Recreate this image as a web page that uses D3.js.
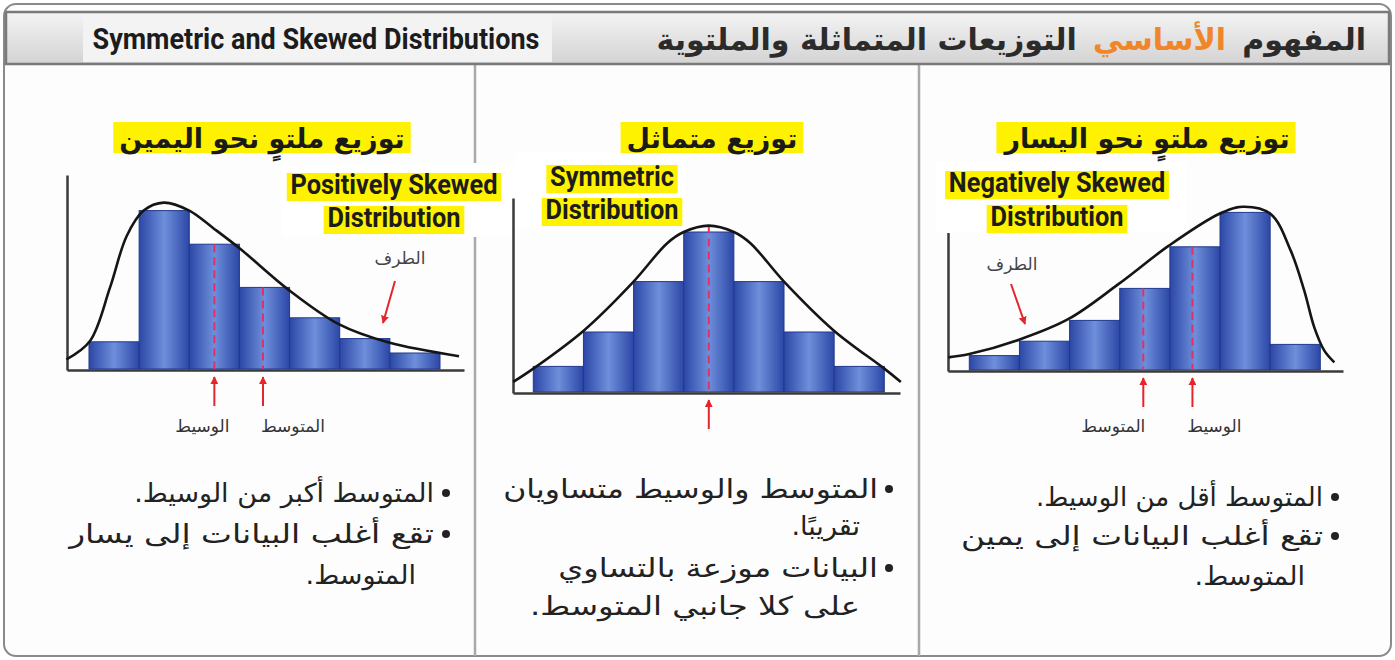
<!DOCTYPE html>
<html lang="ar">
<head>
<meta charset="UTF-8">
<title>Symmetric and Skewed Distributions</title>
<script src="https://d3js.org/d3.v7.min.js"></script>
<style>
    body { margin: 0; background: #ffffff; }
    svg { display: block; }
    .ar { font-family: "DejaVu Sans", sans-serif; }
    .en { font-family: "Roboto", "Liberation Sans", sans-serif; font-weight: bold; }
</style>
</head>
<body>
<div id="chart"></div>
<script>
// ---- data (bar heights and curve points in frequency units) ----
const bins = [1, 2, 3, 4, 5, 6, 7];

const rightSkewBars = [1.7, 9.9, 7.8, 5.1, 3.2, 1.9, 1.0];
const symmetricBars = [1.6, 3.75, 6.9, 10, 6.9, 3.75, 1.6];
const leftSkewBars  = [0.9, 1.8, 3.1, 5.1, 7.7, 9.85, 1.6];

const rightSkewCurve = [[-0.45, 0.6], [0.02, 1.75], [0.42, 5.1], [0.75, 8.3], [1.09, 9.9], [1.49, 10.4],
    [2.0, 9.9], [2.48, 8.8], [3.02, 7.5], [4.0, 4.9], [4.98, 2.8], [5.98, 1.65], [7.38, 0.8]];
const symmetricCurve = [[-0.4, 0.63], [0, 1.46], [1.01, 3.85], [2.0, 6.9], [2.67, 9.3], [3.0, 10.0], [3.5, 10.4],
    [4.0, 10.0], [4.33, 9.3], [5.0, 6.9], [5.99, 3.85], [7.0, 1.46], [7.33, 0.63]];
const leftSkewCurve = [[-0.42, 0.79], [0, 1.0], [0.98, 1.88], [1.98, 3.19], [2.98, 5.38], [3.98, 7.77], [4.98, 9.75],
    [5.45, 10.2], [6.01, 9.75], [6.41, 7.46], [6.68, 4.96], [6.88, 2.66], [7.08, 1.21], [7.28, 0.48]];

// mean / median markers: position on the bin axis and top of the dashed line
const rightSkewMarks = [{ label: "الوسيط", value: 2.5, top: 7.8 }, { label: "المتوسط", value: 3.47, top: 5.1 }];
const symmetricMarks = [{ label: "", value: 3.5, top: 10.4 }];
const leftSkewMarks  = [{ label: "المتوسط", value: 3.47, top: 5.1 }, { label: "الوسيط", value: 4.45, top: 7.7 }];

const headerEn = "Symmetric and Skewed Distributions";
const headerAr = ["المفهوم", "الأساسي", "التوزيعات المتماثلة والملتوية"];

// ---- layout ----
const width = 1395, height = 660;
const svg = d3.select("#chart").append("svg")
    .attr("width", width)
    .attr("height", height);

const defs = svg.append("defs");
const barGrad = defs.append("linearGradient").attr("id", "barGrad");
barGrad.append("stop").attr("offset", "0%").attr("stop-color", "#2c47a6");
barGrad.append("stop").attr("offset", "50%").attr("stop-color", "#6e8fdb");
barGrad.append("stop").attr("offset", "100%").attr("stop-color", "#2c47a6");
const headGrad = defs.append("linearGradient").attr("id", "headGrad")
    .attr("x1", 0).attr("y1", 0).attr("x2", 0).attr("y2", 1);
headGrad.append("stop").attr("offset", "0%").attr("stop-color", "#f4f4f4");
headGrad.append("stop").attr("offset", "100%").attr("stop-color", "#d3d3d3");
defs.append("marker").attr("id", "arrowRed")
    .attr("viewBox", "0 0 10 10").attr("refX", 9).attr("refY", 5)
    .attr("markerWidth", 4).attr("markerHeight", 4).attr("orient", "auto")
    .append("path").attr("d", "M0,0L10,5L0,10z").attr("fill", "#e5242b");

// condensed english text with a yellow (or no) highlight behind it
function enText(parent, str, x, y, size, sx, highlight) {
    const g = parent.append("g").attr("transform", `translate(${x},${y}) scale(${sx},1)`);
    const t = g.append("text")
        .attr("class", "en")
        .attr("text-anchor", "middle")
        .attr("font-size", size)
        .attr("fill", "#1c1c1c")
        .text(str);
    if (highlight) {
        const b = t.node().getBBox();
        g.insert("rect", "text")
            .attr("x", b.x - 4).attr("y", -size * 0.78).attr("width", b.width + 8).attr("height", size * 1.04)
            .attr("fill", highlight);
    }
    return g;
}

// outer frame
svg.append("rect")
    .attr("x", 4).attr("y", 4).attr("width", width - 8).attr("height", height - 8)
    .attr("rx", 12).attr("fill", "#fdfdfd").attr("stroke", "#8a8a8a").attr("stroke-width", 2);

// column dividers
[475, 919].forEach(x => {
    svg.append("line")
        .attr("x1", x).attr("x2", x).attr("y1", 64).attr("y2", 656)
        .attr("stroke", "#a9a9a9").attr("stroke-width", 2.5);
});

// header bar
svg.append("rect")
    .attr("x", 6).attr("y", 12).attr("width", width - 12).attr("height", 52)
    .attr("fill", "url(#headGrad)").attr("stroke", "#7a7a7a").attr("stroke-width", 2.5);
svg.append("rect")
    .attr("x", 83).attr("y", 14).attr("width", 469).attr("height", 48)
    .attr("fill", "#f3f3f3");
enText(svg, headerEn, 316, 49, 30, 0.9, null);

// arabic header: three pieces laid right to left
let hx = 1366;
headerAr.forEach((t, i) => {
    const node = svg.append("text")
        .attr("class", "ar")
        .attr("x", hx).attr("y", 50)
        .attr("text-anchor", "end")
        .attr("font-size", 30)
        .attr("font-weight", "bold")
        .attr("fill", i === 1 ? "#f0862a" : "#2b2b2b")
        .text(t);
    hx -= node.node().getComputedTextLength() + 16;
});

// ---- panels ----
const panels = [
    {
        bars: rightSkewBars, curve: rightSkewCurve, marks: rightSkewMarks, labelDx: [-12, 30],
        x0: 89, base: 369, axisLeft: 67, axisRight: 464, axisTop: 175,
        title: "توزيع ملتوٍ نحو اليمين", titleX: 262,
        en: ["Positively Skewed", "Distribution"], enX: 394, enY: [194, 227], enBox: [282, 163, 233, 74],
        tail: { x: 400, y: 264, from: [395, 281], to: [383, 323] },
        notes: ["• المتوسط أكبر من الوسيط.", "• تقع أغلب البيانات إلى يسار", "المتوسط."],
        noteW: [300, 365, null],
        bulletX: 446, textRight: 434, noteY: [502, 543, 584]
    },
    {
        bars: symmetricBars, curve: symmetricCurve, marks: symmetricMarks, labelDx: [0],
        x0: 533.3, base: 392, axisLeft: 513, axisRight: 900, axisTop: 198,
        title: "توزيع متماثل", titleX: 712,
        en: ["Symmetric", "Distribution"], enX: 612, enY: [186, 219], enBox: [515, 153, 170, 74],
        tail: null,
        notes: ["• المتوسط والوسيط متساويان", "تقريبًا.", "• البيانات موزعة بالتساوي", "على كلا جانبي المتوسط."],
        noteW: [375, null, 320, 330],
        bulletX: 889, textRight: 878, noteY: [498, 535, 577, 615]
    },
    {
        bars: leftSkewBars, curve: leftSkewCurve, marks: leftSkewMarks, labelDx: [-30, 22],
        x0: 969.3, base: 370, axisLeft: 948, axisRight: 1343, axisTop: 200,
        title: "توزيع ملتوٍ نحو اليسار", titleX: 1147,
        en: ["Negatively Skewed", "Distribution"], enX: 1057, enY: [192, 226], enBox: [936, 162, 251, 71],
        tail: { x: 1012, y: 270, from: [1011, 284], to: [1025, 324] },
        notes: ["• المتوسط أقل من الوسيط.", "• تقع أغلب البيانات إلى يمين", "المتوسط."],
        noteW: [280, 362, null],
        bulletX: 1335, textRight: 1323, noteY: [506, 545, 585]
    }
];

panels.forEach(p => {
    const g = svg.append("g");
    const x = d3.scaleLinear().domain([0, bins.length]).range([p.x0, p.x0 + 351]);
    const y = d3.scaleLinear().domain([0, 12]).range([p.base, p.base - 192]);

    // title with yellow highlight
    const title = g.append("text")
        .attr("class", "ar")
        .attr("x", p.titleX).attr("y", 148)
        .attr("text-anchor", "middle")
        .attr("font-size", 27)
        .attr("font-weight", "bold")
        .attr("fill", "#1a1a1a")
        .text(p.title);
    const tb = title.node().getBBox();
    g.insert("rect", "text")
        .attr("x", tb.x - 6).attr("y", 122).attr("width", tb.width + 12).attr("height", 31)
        .attr("fill", "#fff200");

    // bars
    g.selectAll(".bar")
        .data(p.bars)
        .join("rect")
        .attr("class", "bar")
        .attr("x", (d, i) => x(i))
        .attr("y", d => y(d))
        .attr("width", (d, i) => x(i + 1) - x(i))
        .attr("height", d => y(0) - y(d))
        .attr("fill", "url(#barGrad)")
        .attr("stroke", "#20398f")
        .attr("stroke-width", 1);

    // axes (no ticks, just the lines)
    const xAxisScale = d3.scaleLinear().domain([x.invert(p.axisLeft), x.invert(p.axisRight)])
        .range([p.axisLeft, p.axisRight]);
    g.append("g")
        .attr("transform", `translate(0,${p.base + 1})`)
        .call(d3.axisBottom(xAxisScale).tickValues([]).tickSizeOuter(0))
        .call(a => a.select(".domain").attr("stroke", "#3a3a3a").attr("stroke-width", 2.5));
    g.append("g")
        .attr("transform", `translate(${p.axisLeft},0)`)
        .call(d3.axisLeft(d3.scaleLinear().domain([0, y.invert(p.axisTop)]).range([p.base + 1, p.axisTop]))
            .tickValues([]).tickSizeOuter(0))
        .call(a => a.select(".domain").attr("stroke", "#3a3a3a").attr("stroke-width", 2.5));

    // white patch behind the english label
    g.append("rect")
        .attr("x", p.enBox[0]).attr("y", p.enBox[1])
        .attr("width", p.enBox[2]).attr("height", p.enBox[3])
        .attr("fill", "#ffffff");

    // mean / median dashed lines
    g.selectAll(".mark")
        .data(p.marks)
        .join("line")
        .attr("class", "mark")
        .attr("x1", d => x(d.value)).attr("x2", d => x(d.value))
        .attr("y1", d => y(d.top)).attr("y2", y(0))
        .attr("stroke", "#e0306a")
        .attr("stroke-width", 2)
        .attr("stroke-dasharray", "8,5");

    // density curve
    const line = d3.line()
        .x(d => x(d[0]))
        .y(d => y(d[1]))
        .curve(d3.curveCatmullRom.alpha(0.5));
    g.append("path")
        .datum(p.curve)
        .attr("d", line)
        .attr("fill", "none")
        .attr("stroke", "#151515")
        .attr("stroke-width", 2.6);

    // red arrows and labels under the axis
    p.marks.forEach((m, i) => {
        g.append("line")
            .attr("x1", x(m.value)).attr("x2", x(m.value))
            .attr("y1", p.base + 37).attr("y2", p.base + 8)
            .attr("stroke", "#e5242b").attr("stroke-width", 2)
            .attr("marker-end", "url(#arrowRed)");
        if (m.label) {
            g.append("text")
                .attr("class", "ar")
                .attr("x", x(m.value) + p.labelDx[i]).attr("y", 432)
                .attr("text-anchor", "middle")
                .attr("font-size", 17)
                .attr("fill", "#333")
                .text(m.label);
        }
    });

    // tail annotation
    if (p.tail) {
        g.append("text")
            .attr("class", "ar")
            .attr("x", p.tail.x).attr("y", p.tail.y)
            .attr("text-anchor", "middle")
            .attr("font-size", 17)
            .attr("fill", "#444")
            .text("الطرف");
        g.append("line")
            .attr("x1", p.tail.from[0]).attr("y1", p.tail.from[1])
            .attr("x2", p.tail.to[0]).attr("y2", p.tail.to[1])
            .attr("stroke", "#e5242b").attr("stroke-width", 2)
            .attr("marker-end", "url(#arrowRed)");
    }

    // english label
    p.en.forEach((t, i) => enText(g, t, p.enX, p.enY[i], 27, 0.94, "#fff200"));

    // bullet notes, stretched horizontally where the original line is justified
    p.notes.forEach((t, i) => {
        const bullet = t.startsWith("•");
        const str = bullet ? t.slice(2) : t;
        if (bullet) {
            g.append("circle")
                .attr("cx", p.bulletX).attr("cy", p.noteY[i] - 9).attr("r", 4)
                .attr("fill", "#222");
        }
        const right = bullet ? p.textRight : p.textRight - 18;
        const holder = g.append("g").attr("transform", `translate(${right},${p.noteY[i]})`);
        const txt = holder.append("text")
            .attr("class", "ar")
            .attr("direction", "rtl")
            .attr("text-anchor", "start")
            .attr("font-size", 26)
            .attr("fill", "#222")
            .text(str);
        const natural = txt.node().getComputedTextLength();
        const sx = p.noteW[i] ? Math.max(1, p.noteW[i] / natural) : 1.04;
        holder.attr("transform", `translate(${right},${p.noteY[i]}) scale(${sx},1)`);
    });
});
</script>
</body>
</html>
